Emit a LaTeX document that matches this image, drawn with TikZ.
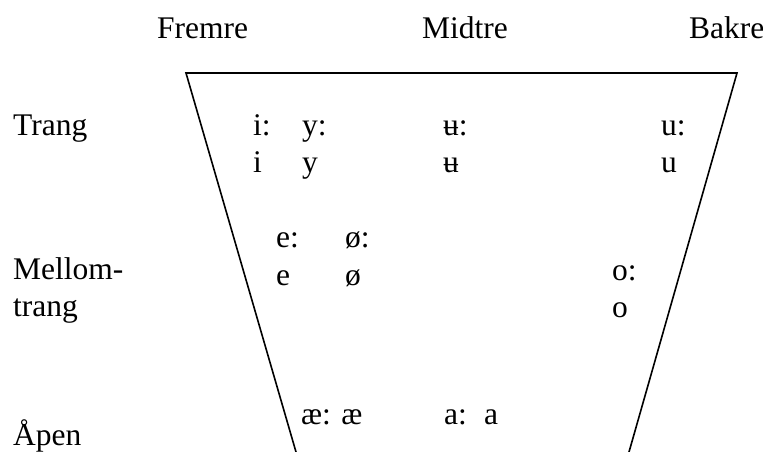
\documentclass[tikz,border=0pt]{standalone}
\usepackage{fontspec}
\setmainfont{Liberation Serif}
\begin{document}
\begin{tikzpicture}[x=1pt,y=-1pt,
  lbl/.style={anchor=base west,inner sep=0pt,font=\fontsize{31.5}{36.2}\selectfont},
  edge/.style={line width=1.6pt,line join=miter}]
\useasboundingbox (0,0) rectangle (763,452);
% column headings
\node[lbl] (fremre) at (157,39) {Fremre};
\node[lbl] (midtre) at (422,39) {Midtre};
\node[lbl] (bakre) at (689,39) {Bakre};
% row headings
\node[lbl] (trang) at (13,135) {Trang};
\node[lbl] (mellom) at (13,279) {Mellom-};
\node[lbl] (mtrang) at (13,316) {trang};
\node[lbl] (apen) at (13,445) {Åpen};
% chart
\coordinate (tl) at (186,73);
\coordinate (tr) at (737,73);
\coordinate (bl) at (296,452);
\coordinate (br) at (629,452);
\draw[edge] (bl) -- (tl) -- (tr) -- (br);
% vowels
\node[lbl] (iL) at (253,135) {i:};
\node[lbl] (iS) at (253,172) {i};
\node[lbl] (yL) at (302,135) {y:};
\node[lbl] (yS) at (302,172) {y};
\node[lbl] (uuL) at (443,135) {ʉ:};
\node[lbl] (uuS) at (443,172) {ʉ};
\node[lbl] (uL) at (661,135) {u:};
\node[lbl] (uS) at (661,172) {u};
\node[lbl] (eL) at (276,247) {e:};
\node[lbl] (eS) at (276,285) {e};
\node[lbl] (oeL) at (345,247) {ø:};
\node[lbl] (oeS) at (345,285) {ø};
\node[lbl] (oL) at (612,280) {o:};
\node[lbl] (oS) at (612,317) {o};
\node[lbl] (ae) at (301,424) {æ: æ};
\node[lbl] (aL) at (444,424) {a:};
\node[lbl] (aS) at (484,424) {a};
\end{tikzpicture}
\end{document}
